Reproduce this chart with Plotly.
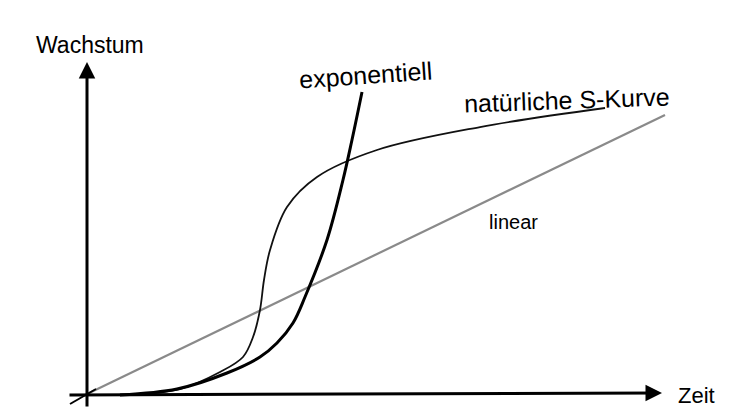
import plotly.graph_objects as go

# --- data (Zeit, Wachstum) in arbitrary units; linear reaches 100 at Zeit 100
linear_t = [0, 100]
linear_w = [0, 100]

exp_t = [6.03, 15.86, 24.48, 30.17, 33.10, 35.86, 37.93, 41.72, 44.48, 46.03, 47.76]
exp_w = [0.0, 2.14, 7.86, 13.57, 18.57, 25.71, 35.0, 55.36, 76.79, 91.07, 108.21]

s_t = [6.03, 16.38, 23.28, 27.24, 28.97, 30.17, 30.86, 31.90, 34.83, 40.0, 50.34, 68.10, 89.66]
s_w = [0.0, 2.14, 8.21, 13.57, 20.71, 30.36, 41.07, 51.79, 67.14, 77.86, 87.5, 95.71, 102.5]

labels = {"y": "Wachstum", "x": "Zeit", "exp": "exponentiell", "s": "natürliche S-Kurve", "lin": "linear"}

# pixel -> data helpers (figure 730x420, origin at px (85,395))
SX, SY, OX, OY = 5.8, 2.8, 85, 395
def X(px): return (px - OX) / SX
def Y(py): return (OY - py) / SY

FONT = "Liberation Sans Narrow, Liberation Sans, Arial Narrow, sans-serif"

fig = go.Figure()
fig.add_trace(go.Scatter(x=linear_t, y=linear_w, mode="lines",
                         line=dict(color="#8a8a8a", width=2.2), hoverinfo="skip"))
fig.add_trace(go.Scatter(x=s_t, y=s_w, mode="lines",
                         line=dict(color="#111111", width=1.8, shape="spline", smoothing=1.0), hoverinfo="skip"))
fig.add_trace(go.Scatter(x=exp_t, y=exp_w, mode="lines",
                         line=dict(color="#000000", width=3, shape="spline", smoothing=1.0), hoverinfo="skip"))

# axes as arrows
fig.add_annotation(x=X(87), y=Y(62), ax=X(87), ay=Y(408), xref="x", yref="y", axref="x", ayref="y",
                   showarrow=True, arrowhead=2, arrowsize=1.1, arrowwidth=3, arrowcolor="#000", text="")
fig.add_annotation(x=X(662), y=Y(393), ax=X(68), ay=Y(395), xref="x", yref="y", axref="x", ayref="y",
                   showarrow=True, arrowhead=2, arrowsize=1.1, arrowwidth=3, arrowcolor="#000", text="")
fig.add_shape(type="line", x0=X(70), y0=Y(404), x1=X(96), y1=Y(389), line=dict(color="#000", width=2))

def label(text, px, py, size, angle=0):
    fig.add_annotation(x=X(px), y=Y(py), xref="x", yref="y", text=text, showarrow=False,
                       font=dict(family=FONT, size=size, color="#000"), textangle=angle)

label(labels["y"], 90, 45, 23)
label(labels["x"], 696, 395, 22)
label(labels["exp"], 365, 75, 25, -4)
label(labels["s"], 567, 100, 25, -2)
label(labels["lin"], 513, 222, 20)

fig.update_xaxes(visible=False, range=[X(0), X(730)])
fig.update_yaxes(visible=False, range=[Y(420), Y(0)])
fig.update_layout(width=730, height=420, margin=dict(l=0, r=0, t=0, b=0),
                  paper_bgcolor="white", plot_bgcolor="white", showlegend=False)
fig.write_html("out.html", config={"displayModeBar": False},
               post_script="document.body.style.margin='0';")
